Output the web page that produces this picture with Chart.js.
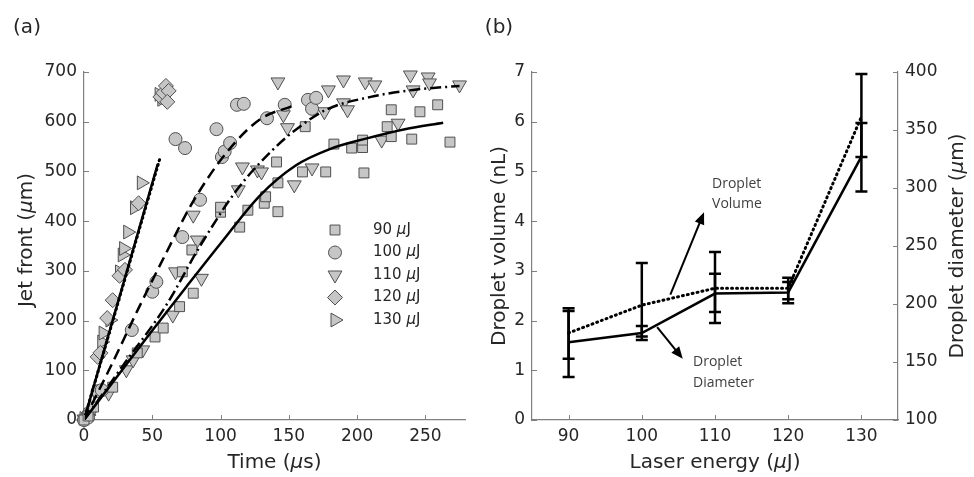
<!DOCTYPE html>
<html>
<head>
<meta charset="utf-8">
<script src="https://cdn.jsdelivr.net/npm/chart.js@4.4.0/dist/chart.umd.min.js"></script>
<style>
  html, body { margin: 0; padding: 0; background: #fff; }
  #wrap { position: relative; width: 974px; height: 477px; overflow: hidden; }
  #chart-a { position: absolute; left: 0; top: 0; }
  #chart-b { position: absolute; left: 480px; top: 0; }
</style>
</head>
<body>
<div id="wrap">
  <canvas id="chart-a" width="480" height="477"></canvas>
  <canvas id="chart-b" width="494" height="477"></canvas>
</div>
<script>
'use strict';

// ******** DATA: PANEL (a) jet front vs time **************
// measured points, [time us, jet front um]
const pts90 = [[0,0],[3,8],[7,26],[21,66],[39,135],[52,167],[58,185],[70,228],[72,298],[79,342],[80,255],
  [100,418],[100,428],[114,388],[120,422],[132,436],[133,449],[142,419],[142,477],[141,519],[160,499],
  [162,590],[177,499],[183,555],[196,547],[204,548],[204,563],[205,497],[222,590],[225,570],[225,624],
  [240,565],[246,620],[259,634],[268,559]];
const pts100 = [[0,0],[3,5],[10,58],[13,60],[35,181],[50,258],[53,278],[67,565],[72,368],[74,547],[85,443],
  [97,585],[101,529],[103,540],[107,557],[112,634],[117,636],[134,607],[147,634],[164,644],[167,626],[170,648]];
const pts110 = [[0,2],[4,10],[18,54],[31,101],[36,121],[43,141],[65,211],[67,298],[80,412],[83,362],[86,285],
  [113,463],[116,509],[127,503],[130,499],[142,680],[146,614],[149,588],[154,473],[167,507],[176,620],
  [179,664],[190,638],[190,684],[193,624],[206,680],[213,674],[218,563],[230,597],[239,694],[241,664],
  [252,690],[253,678],[275,674]];
const pts120 = [[0,0],[2,8],[5,20],[10,127],[12,135],[17,205],[21,241],[26,290],[30,302],[40,436],
  [56,650],[58,658],[60,672],[62,662],[61,640]];
const pts130 = [[0,3],[3,10],[10,56],[13,157],[14,175],[19,201],[26,298],[28,332],[29,345],[32,378],
  [37,427],[42,477],[55,655],[57,645]];

// fitted curves
const fit90 = [[0,0],[25,90],[50,180],[75,268],[100,355],[129,452],[155,512],[180,545],[205,565],[235,585],[263,598]];
const fit100 = [[0,0],[20,110],[40,225],[60,335],[80,440],[105,540],[129,605],[153,632]];
const fit110 = [[0,0],[30,115],[60,230],[85,350],[112,463],[138,543],[158,590],[178,625],[210,650],[241,664],[275,672]];
const fit120 = [[0,0],[56,530]];
const fit130 = [[0,0],[54,515]];

const seriesNames = ['90', '100', '110', '120', '130'];
const timeTicks = [0, 50, 100, 150, 200, 250];
const frontTicks = [0, 100, 200, 300, 400, 500, 600, 700];

// ******** DATA: PANEL (b) droplet size vs laser energy **************
const energy = [90, 100, 110, 120, 130];
const volume = [1.75, 2.31, 2.65, 2.65, 6.1];
const volumeLow = [1.23, 1.61, 1.95, 2.35, 5.29];
const volumeHigh = [2.25, 3.16, 3.38, 2.86, 6.96];
const diameter = [167, 175, 209, 210, 327];
const diameterLow = [137, 172, 193, 204, 297];
const diameterHigh = [194, 181, 226, 219, 356];
const volumeTicks = [0, 1, 2, 3, 4, 5, 6, 7];
const diameterTicks = [100, 150, 200, 250, 300, 350, 400];

// ********* STYLE ****************
const AXIS_GRAY = '#808080';
const TEXT = '#262626';
const TICK_FONT = {family: 'DejaVu Sans', size: 17};
const TITLE = '20px "DejaVu Sans"';
const TITLE_IT = 'italic 20px "DejaVu Sans"';
const MARKER_FILL = '#c6c6c6';
const MARKER_EDGE = '#505050';

const markerStyles = [
  {pointStyle: 'rect', radius: 7, rotation: 0},
  {pointStyle: 'circle', radius: 6.5, rotation: 0},
  {pointStyle: 'triangle', radius: 8, rotation: 180},
  {pointStyle: 'rectRot', radius: 7.5, rotation: 0},
  {pointStyle: 'triangle', radius: 8, rotation: 90}
];

// ********* HELPERS ****************
function toXY(arr) {
  return arr.map(p => ({x: p[0], y: p[1]}));
}

function fixedTicks(list) {
  return function(scale) {
    scale.ticks = list.map(v => ({value: v}));
  };
}

function drawRuns(ctx, runs, x, y, rot) {
  ctx.save();
  ctx.translate(x, y);
  ctx.rotate(rot || 0);
  ctx.fillStyle = TEXT;
  ctx.textBaseline = 'middle';
  ctx.textAlign = 'left';
  let total = 0;
  runs.forEach(r => { ctx.font = r[1]; total += ctx.measureText(r[0]).width; });
  let cx = -total / 2;
  runs.forEach(r => {
    ctx.font = r[1];
    ctx.fillText(r[0], cx, 0);
    cx += ctx.measureText(r[0]).width;
  });
  ctx.restore();
}

function drawMarker(ctx, style, x, y) {
  ctx.save();
  ctx.fillStyle = MARKER_FILL;
  ctx.strokeStyle = MARKER_EDGE;
  ctx.lineWidth = 1;
  Chart.helpers.drawPoint(ctx, {
    pointStyle: style.pointStyle, radius: style.radius, rotation: style.rotation, borderWidth: 1
  }, x, y);
  ctx.restore();
}

function drawArrow(ctx, x1, y1, x2, y2) {
  const ang = Math.atan2(y2 - y1, x2 - x1);
  const len = 12, half = 5;
  ctx.beginPath();
  ctx.moveTo(x1, y1);
  ctx.lineTo(x2 - Math.cos(ang) * len * 0.8, y2 - Math.sin(ang) * len * 0.8);
  ctx.stroke();
  ctx.beginPath();
  ctx.moveTo(x2, y2);
  ctx.lineTo(x2 - Math.cos(ang) * len - Math.sin(ang) * half, y2 - Math.sin(ang) * len + Math.cos(ang) * half);
  ctx.lineTo(x2 - Math.cos(ang) * len + Math.sin(ang) * half, y2 - Math.sin(ang) * len - Math.cos(ang) * half);
  ctx.closePath();
  ctx.fill();
}

// ********* PLUGINS ****************
// matlab style ticks pointing into the plot
const inwardTicks = {
  id: 'inwardTicks',
  afterDraw(chart) {
    const ctx = chart.ctx;
    const area = chart.chartArea;
    ctx.save();
    ctx.strokeStyle = AXIS_GRAY;
    ctx.lineWidth = 1;
    Object.values(chart.scales).forEach(s => {
      s.ticks.forEach((t, i) => {
        const p = Math.round(s.getPixelForTick(i)) + 0.5;
        ctx.beginPath();
        if (s.axis === 'x') {
          ctx.moveTo(p, area.bottom); ctx.lineTo(p, area.bottom - 5);
        } else if (s.position === 'left') {
          ctx.moveTo(area.left, p); ctx.lineTo(area.left + 5, p);
        } else {
          ctx.moveTo(area.right, p); ctx.lineTo(area.right - 5, p);
        }
        ctx.stroke();
      });
    });
    ctx.restore();
  }
};

const panelA = {
  id: 'panelA',
  afterDraw(chart) {
    const ctx = chart.ctx;
    const area = chart.chartArea;
    drawRuns(ctx, [['(a)', TITLE]], 27, 28, 0);
    drawRuns(ctx, [['Jet front (', TITLE], ['\u00b5', TITLE_IT], ['m)', TITLE]], 27, 240, -Math.PI / 2);
    drawRuns(ctx, [['Time (', TITLE], ['\u00b5', TITLE_IT], ['s)', TITLE]], (area.left + area.right) / 2, 463, 0);

    // legend
    const font = '15px "DejaVu Sans"';
    const fontIt = 'italic 15px "DejaVu Sans"';
    seriesNames.forEach((name, i) => {
      const y = area.top + 158 + i * 22.5;
      drawMarker(ctx, markerStyles[i], area.left + 251, y);
      ctx.save();
      ctx.fillStyle = TEXT;
      ctx.textBaseline = 'middle';
      let x = area.left + 289;
      [[name + ' ', font], ['\u00b5', fontIt], ['J', font]].forEach(r => {
        ctx.font = r[1];
        ctx.fillText(r[0], x, y);
        x += ctx.measureText(r[0]).width;
      });
      ctx.restore();
    });
  }
};

const panelB = {
  id: 'panelB',
  afterDatasetsDraw(chart) {
    const ctx = chart.ctx;
    const {x, y, y1} = chart.scales;
    ctx.save();
    ctx.strokeStyle = '#000';
    ctx.lineWidth = 2.5;
    const bar = (px, lo, hi) => {
      ctx.beginPath();
      ctx.moveTo(px, lo); ctx.lineTo(px, hi);
      ctx.moveTo(px - 6, lo); ctx.lineTo(px + 6, lo);
      ctx.moveTo(px - 6, hi); ctx.lineTo(px + 6, hi);
      ctx.stroke();
    };
    energy.forEach((e, i) => {
      const px = x.getPixelForValue(e);
      bar(px, y.getPixelForValue(volumeLow[i]), y.getPixelForValue(volumeHigh[i]));
      bar(px, y1.getPixelForValue(diameterLow[i]), y1.getPixelForValue(diameterHigh[i]));
    });
    ctx.restore();
  },
  afterDraw(chart) {
    const ctx = chart.ctx;
    const area = chart.chartArea;
    const {x, y} = chart.scales;
    drawRuns(ctx, [['(b)', TITLE]], 19, 28, 0);
    drawRuns(ctx, [['Droplet volume (nL)', TITLE]], 20, 246, -Math.PI / 2);
    drawRuns(ctx, [['Droplet diameter (', TITLE], ['\u00b5', TITLE_IT], ['m)', TITLE]], 478, 246, -Math.PI / 2);
    drawRuns(ctx, [['Laser energy (', TITLE], ['\u00b5', TITLE_IT], ['J)', TITLE]], (area.left + area.right) / 2, 463, 0);

    // annotation arrows
    ctx.save();
    ctx.strokeStyle = '#000';
    ctx.fillStyle = '#000';
    ctx.lineWidth = 2;
    drawArrow(ctx, x.getPixelForValue(103.9), y.getPixelForValue(2.52), x.getPixelForValue(108.5), y.getPixelForValue(4.18));
    drawArrow(ctx, x.getPixelForValue(102.1), y.getPixelForValue(1.87), x.getPixelForValue(105.6), y.getPixelForValue(1.23));
    ctx.font = '14px "Open Sans"';
    ctx.fillStyle = '#404040';
    ctx.textBaseline = 'middle';
    const tx1 = x.getPixelForValue(109.6);
    ctx.fillText('Droplet', tx1, y.getPixelForValue(4.75));
    ctx.fillText('Volume', tx1, y.getPixelForValue(4.35));
    const tx2 = x.getPixelForValue(107);
    ctx.fillText('Droplet', tx2, y.getPixelForValue(1.17));
    ctx.fillText('Diameter', tx2, y.getPixelForValue(0.74));
    ctx.restore();
  }
};

// ********* SHARED AXIS OPTIONS ****************
function axisOpts(extra) {
  return Object.assign({
    type: 'linear',
    grid: {display: false, drawTicks: false},
    border: {display: true, color: AXIS_GRAY, width: 1.2},
    ticks: {color: TEXT, font: TICK_FONT, padding: 7, includeBounds: false}
  }, extra);
}

// ********* CHART (a) ****************
const fitStyles = [
  {borderDash: []},
  {borderDash: [11, 6]},
  {borderDash: [11, 4, 2, 4]},
  {borderDash: [1, 4], borderCapStyle: 'round', borderWidth: 3},
  {borderDash: []}
];
const fits = [fit90, fit100, fit110, fit120, fit130];
const allPts = [pts90, pts100, pts110, pts120, pts130];

let datasetsA = [];
fits.forEach((f, i) => {
  datasetsA.push(Object.assign({
    label: seriesNames[i] + ' fit',
    data: toXY(f),
    showLine: true,
    borderColor: '#000',
    borderWidth: 2.5,
    pointRadius: 0,
    cubicInterpolationMode: 'monotone',
    fill: false
  }, fitStyles[i]));
});
allPts.forEach((p, i) => {
  datasetsA.push({
    label: seriesNames[i] + ' \u00b5J',
    data: toXY(p),
    showLine: false,
    pointStyle: markerStyles[i].pointStyle,
    pointRadius: markerStyles[i].radius,
    pointRotation: markerStyles[i].rotation,
    pointBackgroundColor: MARKER_FILL,
    pointBorderColor: MARKER_EDGE,
    pointBorderWidth: 1,
    clip: false
  });
});

new Chart(document.getElementById('chart-a'), {
  type: 'scatter',
  data: {datasets: datasetsA},
  options: {
    responsive: false,
    animation: false,
    devicePixelRatio: 1,
    events: [],
    layout: {padding: {top: 72, right: 15, bottom: 0, left: 0}},
    plugins: {legend: {display: false}, tooltip: {enabled: false}},
    scales: {
      x: axisOpts({
        position: 'bottom', min: 0, max: 279,
        ticks: {color: TEXT, font: TICK_FONT, padding: 6},
        afterBuildTicks: fixedTicks(timeTicks),
        afterFit: s => { s.height = 57; }
      }),
      y: axisOpts({
        position: 'left', min: 0, max: 700,
        afterBuildTicks: fixedTicks(frontTicks),
        afterFit: s => { s.width = 84; }
      })
    }
  },
  plugins: [inwardTicks, panelA]
});

// ********* CHART (b) ****************
new Chart(document.getElementById('chart-b'), {
  type: 'scatter',
  data: {
    datasets: [
      {
        label: 'Droplet diameter',
        data: energy.map((e, i) => ({x: e, y: diameter[i]})),
        yAxisID: 'y1',
        showLine: true,
        borderColor: '#000',
        borderWidth: 2.5,
        pointRadius: 0
      },
      {
        label: 'Droplet volume',
        data: energy.map((e, i) => ({x: e, y: volume[i]})),
        yAxisID: 'y',
        showLine: true,
        borderColor: '#000',
        borderWidth: 3,
        borderDash: [1, 4],
        borderCapStyle: 'round',
        pointRadius: 0
      }
    ]
  },
  options: {
    responsive: false,
    animation: false,
    devicePixelRatio: 1,
    events: [],
    layout: {padding: {top: 72, right: 0, bottom: 0, left: 0}},
    plugins: {legend: {display: false}, tooltip: {enabled: false}},
    scales: {
      x: axisOpts({
        position: 'bottom', min: 85, max: 135,
        ticks: {color: TEXT, font: TICK_FONT, padding: 6},
        afterBuildTicks: fixedTicks(energy),
        afterFit: s => { s.height = 57; }
      }),
      y: axisOpts({
        position: 'left', min: 0, max: 7,
        afterBuildTicks: fixedTicks(volumeTicks),
        afterFit: s => { s.width = 52; }
      }),
      y1: axisOpts({
        position: 'right', min: 100, max: 400,
        afterBuildTicks: fixedTicks(diameterTicks),
        afterFit: s => { s.width = 76; }
      })
    }
  },
  plugins: [inwardTicks, panelB]
});
</script>
</body>
</html>
